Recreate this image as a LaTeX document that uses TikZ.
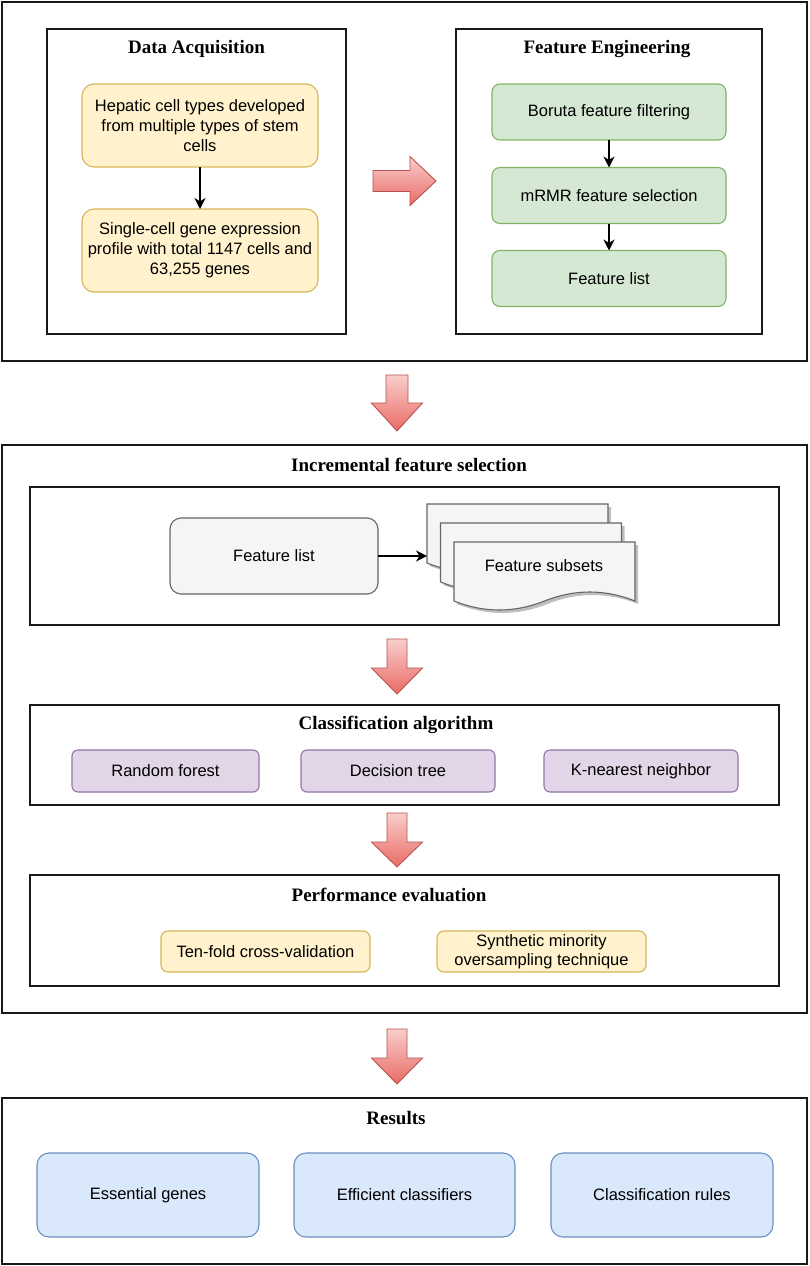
\documentclass[tikz,border=0pt]{standalone}
\usepackage{fontspec}
\setmainfont{Liberation Serif}
\newfontfamily\arialf{Liberation Sans}
\usetikzlibrary{arrows.meta}
\definecolor{yfill}{HTML}{FFF2CC}\definecolor{ystroke}{HTML}{D6B656}
\definecolor{gfill}{HTML}{D5E8D4}\definecolor{gstroke}{HTML}{82B366}
\definecolor{pfill}{HTML}{E1D5E7}\definecolor{pstroke}{HTML}{9673A6}
\definecolor{bfill}{HTML}{DAE8FC}\definecolor{bstroke}{HTML}{6C8EBF}
\definecolor{grfill}{HTML}{F5F5F5}\definecolor{grstroke}{HTML}{666666}
\definecolor{redtop}{HTML}{F8CECC}\definecolor{redbot}{HTML}{EA6B66}\definecolor{redstroke}{HTML}{B85450}
\tikzset{
  frame/.style={draw=black!90, line width=1.8pt},
  ttl/.style={font=\fontsize{19}{22}\selectfont\bfseries, inner sep=0pt},
  cbox/.style={rounded corners=#1, line width=1.1pt, inner sep=2pt, outer sep=0pt, align=center,
     font=\arialf\fontsize{16.5}{20}\selectfont},
  ybox/.style={cbox=12pt, draw=ystroke, fill=yfill},
  gbox/.style={cbox=8pt, draw=gstroke, fill=gfill},
  pbox/.style={cbox=6pt, draw=pstroke, fill=pfill},
  bbox/.style={cbox=12pt, draw=bstroke, fill=bfill},
  grbox/.style={cbox=11pt, draw=grstroke, fill=grfill},
  conn/.style={line width=1.4pt, -{Stealth[length=11pt,width=11pt,inset=3.5pt]}},
  redarr/.style={draw=redstroke, line width=0.9pt, top color=redtop, bottom color=redbot, line join=miter},
  docsh/.style={draw=grstroke, fill=grfill, line width=1.1pt},
  docshadow/.style={fill=black, opacity=0.25},
}
\newcommand\redarrowdown[5]{%
  \path[redarr] ({#1-#5},#2) -- ({#1+#5},#2) -- ({#1+#5},#3) -- ({#1+25.5},#3) -- (#1,#4)
    -- ({#1-25.5},#3) -- ({#1-#5},#3) -- cycle;}
\newcommand\docoutline{(0,0) -- (181,0) -- (181,59) .. controls (150.8,47) and (120.7,47) .. (90.5,59)
    .. controls (60.3,71) and (30.2,71) .. (0,59) -- cycle}
\newcommand\subsetdoc[2]{%
  \begin{scope}[shift={(#1,#2)}]
    \fill[docshadow,shift={(3,3)}] \docoutline;
    \draw[docsh] \docoutline;
  \end{scope}}
\begin{document}
\begin{tikzpicture}[x=1pt,y=-1pt]
\useasboundingbox (0,0) rectangle (809,1266);
\fill[white] (0,0) rectangle (809,1266);

% ---------- top section ----------
\draw[frame] (2,2) rectangle (807,361);
\draw[frame] (47,29) rectangle (346,334);
\node[ttl] (tDA) at (196.5,49) {Data Acquisition};
\node[ybox, minimum width=236pt, minimum height=83pt] (y1) at (200,125.5)
  {Hepatic cell types developed\\from multiple types of stem\\cells};
\node[ybox, minimum width=236pt, minimum height=83pt] (y2) at (200,250.5)
  {Single-cell gene expression\\profile with total 1147 cells and\\63,255 genes};
\draw[conn] (y1) -- (y2);

\draw[frame] (456,29) rectangle (762,334);
\node[ttl] (tFE) at (607,49) {Feature Engineering};
\node[gbox, minimum width=234pt, minimum height=56pt] (g1) at (609,112) {Boruta feature filtering};
\node[gbox, minimum width=234pt, minimum height=56pt] (g2) at (609,195.5) {mRMR feature selection};
\node[gbox, minimum width=234pt, minimum height=56pt] (g3) at (609,278.5) {Feature list};
\draw[conn] (g1) -- (g2);
\draw[conn] (g2) -- (g3);

\path[redarr] (373,170.5) -- (410,170.5) -- (410,156.5) -- (436,181) -- (410,205.5) -- (410,191.5) -- (373,191.5) -- cycle;

\redarrowdown{397}{375}{403}{431}{11}

% ---------- middle section ----------
\draw[frame] (2,445) rectangle (807,1013);
\node[ttl] (tIFS) at (409,465) {Incremental feature selection};
\draw[frame] (30,487) rectangle (779,625);
\node[grbox, minimum width=208pt, minimum height=76pt] (fl) at (274,556) {Feature list};
\subsetdoc{427}{504}
\subsetdoc{440.5}{523}
\subsetdoc{454}{542}
\node[font=\arialf\fontsize{16.5}{20}\selectfont, inner sep=0pt] (fs) at (544,566) {Feature subsets};
\coordinate (d1w) at (427,556);
\draw[conn] (fl) -- (d1w);

\redarrowdown{397}{639}{668}{694}{10}

\draw[frame] (30,705) rectangle (779,805);
\node[ttl] (tCA) at (396,725) {Classification algorithm};
\node[pbox, minimum width=187pt, minimum height=42pt] (rf) at (165.5,771) {Random forest};
\node[pbox, minimum width=194pt, minimum height=42pt] (dt) at (398,771) {Decision tree};
\node[pbox, minimum width=194pt, minimum height=42pt] (knn) at (641,771) {K-nearest neighbor};

\redarrowdown{397}{813}{842}{867}{10}

\draw[frame] (30,875) rectangle (779,986);
\node[ttl] (tPE) at (389,895) {Performance evaluation};
\node[ybox, cbox=7pt, minimum width=209pt, minimum height=41pt] (tf) at (265.5,951.5) {Ten-fold cross-validation};
\node[ybox, cbox=7pt, minimum width=209pt, minimum height=41pt, font=\arialf\fontsize{16.5}{19}\selectfont] (sm) at (541.5,951.5)
  {Synthetic minority\\oversampling technique};

\redarrowdown{397}{1029}{1058}{1084}{10}

% ---------- results ----------
\draw[frame] (2,1098) rectangle (807,1264);
\node[ttl] (tR) at (396,1118) {Results};
\node[bbox, minimum width=222pt, minimum height=84pt] (eg) at (148,1195) {Essential genes};
\node[bbox, minimum width=221pt, minimum height=84pt] (ec) at (404.5,1195) {Efficient classifiers};
\node[bbox, minimum width=222pt, minimum height=84pt] (cr) at (662,1195) {Classification rules};
\end{tikzpicture}
\end{document}
